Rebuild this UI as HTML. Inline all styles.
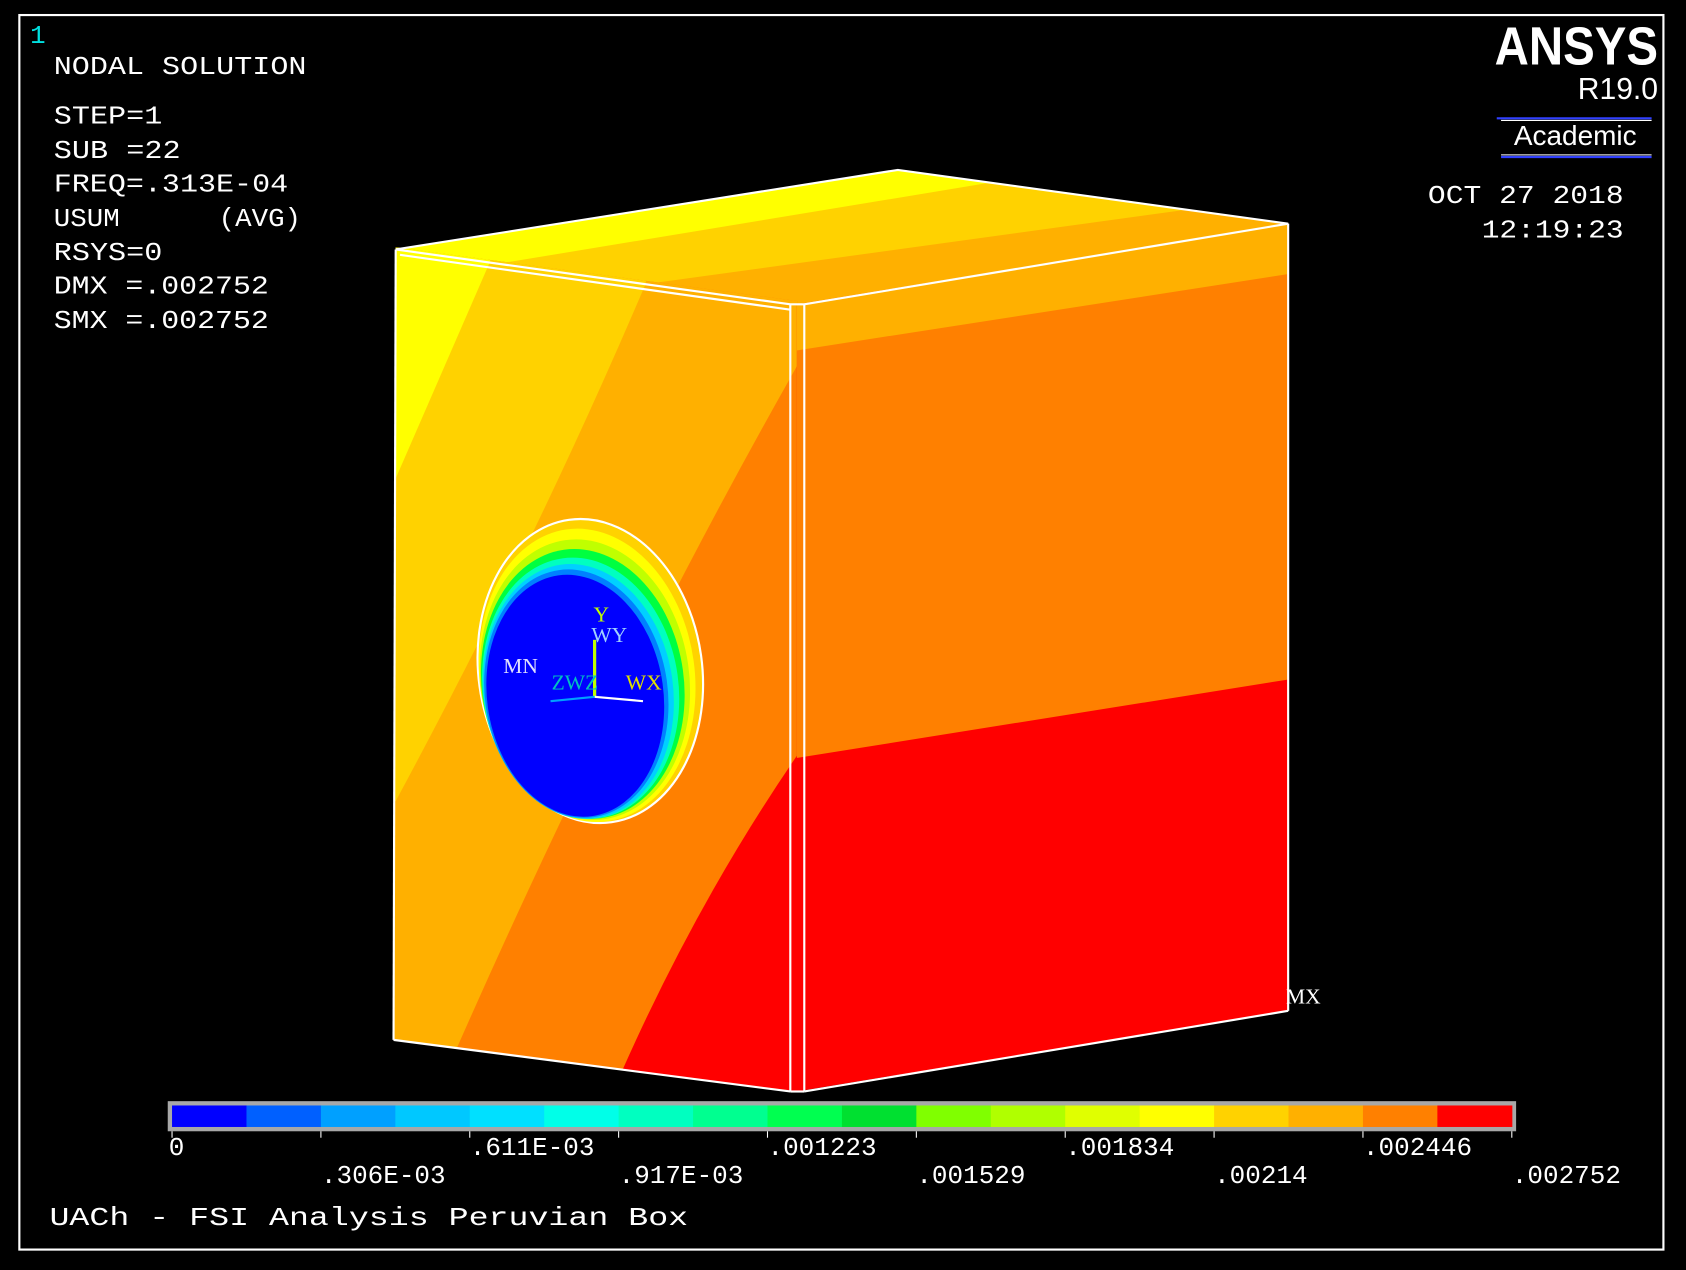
<!DOCTYPE html>
<html><head><meta charset="utf-8"><style>
html,body{margin:0;padding:0;background:#000;}
svg{display:block;}
.m{font-family:"Liberation Mono",monospace;fill:#fff;font-size:24px;white-space:pre;}
</style></head><body>
<svg width="1686" height="1270" viewBox="0 0 1568 1181" preserveAspectRatio="none" xmlns="http://www.w3.org/2000/svg">
<rect x="0" y="0" width="1568" height="1181" fill="#000"/>
<rect x="18" y="14" width="1529" height="1148" fill="none" stroke="#fff" stroke-width="2"/>
<text x="28" y="40" font-family="Liberation Mono,monospace" font-size="24" fill="#00e0e0">1</text>
<g>
<text class="m" x="50" y="69" textLength="235" lengthAdjust="spacingAndGlyphs">NODAL SOLUTION</text>
<text class="m" x="50" y="115" textLength="101" lengthAdjust="spacingAndGlyphs">STEP=1</text>
<text class="m" x="50" y="147" textLength="118" lengthAdjust="spacingAndGlyphs">SUB =22</text>
<text class="m" x="50" y="178" textLength="218" lengthAdjust="spacingAndGlyphs">FREQ=.313E-04</text>
<text class="m" x="50" y="210" textLength="230" lengthAdjust="spacingAndGlyphs">USUM      (AVG)</text>
<text class="m" x="50" y="242" textLength="101" lengthAdjust="spacingAndGlyphs">RSYS=0</text>
<text class="m" x="50" y="273" textLength="200" lengthAdjust="spacingAndGlyphs">DMX =.002752</text>
<text class="m" x="50" y="305" textLength="200" lengthAdjust="spacingAndGlyphs">SMX =.002752</text>
</g>
<g>
<text x="1542" y="60" text-anchor="end" font-family="Liberation Sans,sans-serif" font-weight="bold" font-size="50" fill="#fff" textLength="152" lengthAdjust="spacingAndGlyphs">ANSYS</text>
<text x="1542" y="92" text-anchor="end" font-family="Liberation Sans,sans-serif" font-size="28" fill="#fff">R19.0</text>
<line x1="1392" y1="110" x2="1536" y2="110" stroke="#3040ff" stroke-width="2"/>
<line x1="1396" y1="146" x2="1536" y2="146" stroke="#3040ff" stroke-width="2"/>
<line x1="1396" y1="112" x2="1536" y2="112" stroke="#fff" stroke-width="1"/>
<line x1="1396" y1="144" x2="1536" y2="144" stroke="#fff" stroke-width="1"/>
<text x="1465" y="135" text-anchor="middle" font-family="Liberation Sans,sans-serif" font-size="26" fill="#fff">Academic</text>
</g>
<text class="m" x="1328" y="189" textLength="182" lengthAdjust="spacingAndGlyphs">OCT 27 2018</text>
<text class="m" x="1378" y="221" textLength="132" lengthAdjust="spacingAndGlyphs">12:19:23</text>

<defs>
<clipPath id="cl"><polygon points="368,230 742,280 742,1015 366,967"/></clipPath>
<clipPath id="cr"><polygon points="741,283 1198,208 1198,940 741,1015"/></clipPath>
<clipPath id="ct"><polygon points="368,232 835,158 1198,208 748,283"/></clipPath>
</defs>
<g clip-path="url(#ct)">
<rect x="360" y="150" width="850" height="140" fill="#ffb000"/>
<polygon points="360,150 1210,150 1210,185 1125,192 602,264 560,290 360,290" fill="#ffd200"/>
<polygon points="360,150 940,150 920,170 459,246 440,290 360,290" fill="#ffff00"/>
</g>
<g clip-path="url(#cl)">
<rect x="360" y="220" width="390" height="800" fill="#ff8000"/>
<path d="M360,220 L750,220 L750,325 Q570,640 405,1020 L360,1020Z" fill="#ffb000"/>
<path d="M360,220 L610,220 L600,265 Q500,500 368,745 L360,745Z" fill="#ffd200"/>
<polygon points="360,220 462,220 455,245 368,445 360,445" fill="#ffff00"/>
<path d="M568,1020 Q645,840 750,690 L750,1020Z" fill="#ff0000"/>
</g>
<g clip-path="url(#cr)">
<rect x="740" y="200" width="470" height="820" fill="#ff0000"/>
<polygon points="740,200 1210,200 1210,630 740,705" fill="#ff8000"/>
<polygon points="740,200 1210,200 1210,253 740,326" fill="#ffb000"/>
</g>
<g fill="none" stroke="#fff" stroke-width="2">
<polygon points="368,232 835,158 1198,208 748,283 735,283"/>
<line x1="368" y1="232" x2="366" y2="967"/>
<line x1="366" y1="967" x2="735" y2="1015"/>
<line x1="748" y1="1015" x2="1198" y2="940"/>
<line x1="1198" y1="208" x2="1198" y2="940"/>
<line x1="735" y1="283" x2="735" y2="1015"/>
<line x1="748" y1="283" x2="748" y2="1015"/>
<line x1="735" y1="1015" x2="748" y2="1015"/>
<line x1="372" y1="237" x2="735" y2="288"/>
</g>
<g>
<ellipse cx="549" cy="624" rx="104" ry="142" transform="rotate(-8 549 624)" fill="#ffd200" stroke="#fff" stroke-width="2"/>
<ellipse cx="546" cy="628" rx="100" ry="137" transform="rotate(-8 546 628)" fill="#ffff00"/>
<ellipse cx="544" cy="632" rx="97" ry="131" transform="rotate(-8 544 632)" fill="#c0ff00"/>
<ellipse cx="542" cy="636" rx="94" ry="126" transform="rotate(-8 542 636)" fill="#00ff40"/>
<ellipse cx="540" cy="640" rx="91" ry="122" transform="rotate(-8 540 640)" fill="#00ffc0"/>
<ellipse cx="538" cy="643" rx="88" ry="119" transform="rotate(-8 538 643)" fill="#00d0ff"/>
<ellipse cx="536" cy="645" rx="85" ry="116" transform="rotate(-8 536 645)" fill="#0080ff"/>
<ellipse cx="535" cy="647" rx="82" ry="113" transform="rotate(-8 535 647)" fill="#0000ff"/>
</g>
<g font-family="Liberation Serif,serif" font-size="20">
<line x1="553" y1="648" x2="553" y2="595" stroke="#c0ff00" stroke-width="3"/>
<line x1="553" y1="648" x2="598" y2="652" stroke="#fff" stroke-width="2"/>
<line x1="553" y1="648" x2="512" y2="652" stroke="#00a0ff" stroke-width="2"/>
<text x="552" y="578" fill="#c0ff00">Y</text>
<text x="550" y="597" fill="#a0d0ff">WY</text>
<text x="513" y="641" fill="#00c0c0">ZWZ</text>
<text x="582" y="641" fill="#e0e000">WX</text>
<text x="468" y="626" fill="#e0e0ff">MN</text>
</g>
<text x="1196" y="933" font-family="Liberation Serif,serif" font-size="20" fill="#fff">MX</text>

<g id="legend"></g>
<text class="m" x="46" y="1139" font-size="27" textLength="594" lengthAdjust="spacingAndGlyphs">UACh - FSI Analysis Peruvian Box</text>
<script>
const segColors=["#0000ff","#0060ff","#00a0ff","#00c8ff","#00e0ff","#00ffe8","#00ffc0","#00ff90","#00ff50","#00e030","#80ff00","#b0ff00","#e0ff00","#ffff00","#ffd200","#ffb000","#ff8000","#ff0000"];
const tickLabels=["0",".306E-03",".611E-03",".917E-03",".001223",".001529",".001834",".00214",".002446",".002752"];
const NS="http://www.w3.org/2000/svg";
const g=document.getElementById('legend');
const x0=160,x1=1406,y0=1028,h=20;
const sw=(x1-x0)/segColors.length;
const bg=document.createElementNS(NS,'rect');
bg.setAttribute('x',x0-4);bg.setAttribute('y',y0-4);bg.setAttribute('width',x1-x0+8);bg.setAttribute('height',h+8);bg.setAttribute('fill','#a8a8a8');


g.appendChild(bg);
segColors.forEach((c,i)=>{
 const r=document.createElementNS(NS,'rect');
 r.setAttribute('x',x0+i*sw);r.setAttribute('y',y0);r.setAttribute('width',sw+0.5);r.setAttribute('height',h);r.setAttribute('fill',c);
 
 
 g.appendChild(r);
});
const lw=(x1-x0)/(tickLabels.length-1);
tickLabels.forEach((t,i)=>{
 const x=x0+i*lw;
 const ln=document.createElementNS(NS,'line');
 ln.setAttribute('x1',x);ln.setAttribute('x2',x);ln.setAttribute('y1',y0+h+4);ln.setAttribute('y2',y0+h+10);ln.setAttribute('stroke','#fff');
 
 
 g.appendChild(ln);
 const tx=document.createElementNS(NS,'text');
 tx.setAttribute('x',i===0?x-3:x);
 tx.setAttribute('y',i%2?1100:1074);
 tx.setAttribute('class','m');
 tx.setAttribute('font-size','23');
 tx.setAttribute('textLength',t.length*14.5);
 tx.setAttribute('lengthAdjust','spacingAndGlyphs');
 tx.textContent=t;
 
 
 g.appendChild(tx);
});
</script>
</svg>
</body></html>
